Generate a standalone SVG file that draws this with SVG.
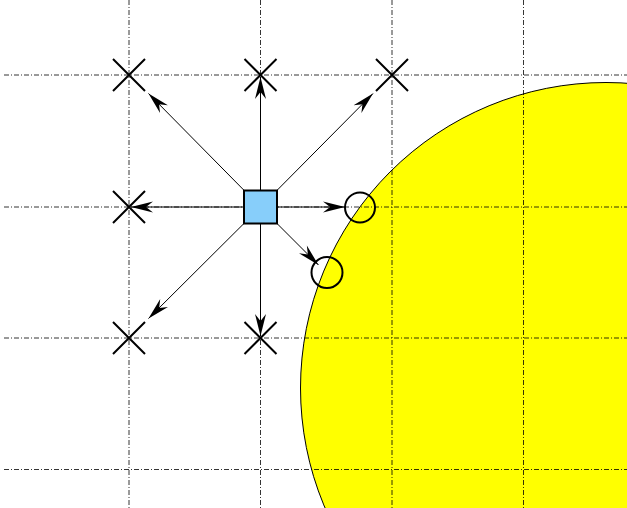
<svg xmlns="http://www.w3.org/2000/svg" width="627" height="508" viewBox="0 0 627 508">
  <defs>
    <style>
      .grid { stroke: #000; stroke-width: 0.8; stroke-dasharray: 5 2 1 2; fill: none; }
      .cross { stroke: #000; stroke-width: 2; fill: none; }
      .ring { stroke: #000; stroke-width: 2; fill: none; }
      .conn { stroke: #000; stroke-width: 1; fill: none; marker-end: url(#arrow); }
    </style>
    <marker id="arrow" markerUnits="userSpaceOnUse" markerWidth="30" markerHeight="16" viewBox="-24 -8 26 16" refX="0" refY="0" orient="auto">
      <path d="M0,0 L-22,-5.5 L-15,0 L-22,5.5 Z" fill="#000"/>
    </marker>
  </defs>
  <rect width="627" height="508" fill="#fff"/>
  <g id="region">
    <circle cx="606" cy="388" r="305.5" fill="#ffff00" stroke="#000" stroke-width="1"/>
  </g>
  <g id="grid">
    <line class="grid" x1="129" y1="0" x2="129" y2="508"/>
    <line class="grid" x1="260.5" y1="0" x2="260.5" y2="508"/>
    <line class="grid" x1="392" y1="0" x2="392" y2="508"/>
    <line class="grid" x1="523.5" y1="0" x2="523.5" y2="508"/>
    <line class="grid" x1="4" y1="75" x2="627" y2="75"/>
    <line class="grid" x1="4" y1="207" x2="627" y2="207"/>
    <line class="grid" x1="4" y1="338" x2="627" y2="338"/>
    <line class="grid" x1="4" y1="469.5" x2="627" y2="469.5"/>
  </g>
  <g id="connectors">
    <line class="conn" x1="260.5" y1="207" x2="260.5" y2="77"/>
    <line class="conn" x1="260.5" y1="207" x2="260.5" y2="336"/>
    <line class="conn" x1="260.5" y1="207" x2="131" y2="207"/>
    <line class="conn" x1="260.5" y1="207" x2="345" y2="207"/>
    <line class="conn" x1="260.5" y1="207" x2="148.5" y2="93.5"/>
    <line class="conn" x1="260.5" y1="207" x2="373" y2="93.5"/>
    <line class="conn" x1="260.5" y1="207" x2="148.5" y2="318.5"/>
    <line class="conn" x1="260.5" y1="207" x2="318.5" y2="265"/>
  </g>
  <g id="cross-tl"><path class="cross" d="M113,59 L145,91 M145,59 L113,91"/></g>
  <g id="cross-tc"><path class="cross" d="M244.5,59 L276.5,91 M276.5,59 L244.5,91"/></g>
  <g id="cross-tr"><path class="cross" d="M376,59 L408,91 M408,59 L376,91"/></g>
  <g id="cross-ml"><path class="cross" d="M113,191 L145,223 M145,191 L113,223"/></g>
  <g id="cross-bl"><path class="cross" d="M113,322 L145,354 M145,322 L113,354"/></g>
  <g id="cross-bc"><path class="cross" d="M244.5,322 L276.5,354 M276.5,322 L244.5,354"/></g>
  <g id="hit-right"><circle class="ring" cx="360" cy="207.5" r="15"/></g>
  <g id="hit-diag"><circle class="ring" cx="327" cy="272.5" r="15.5"/></g>
  <g id="source"><rect x="244" y="190.5" width="33" height="33" fill="#87cefa" stroke="#000" stroke-width="2"/></g>
</svg>
